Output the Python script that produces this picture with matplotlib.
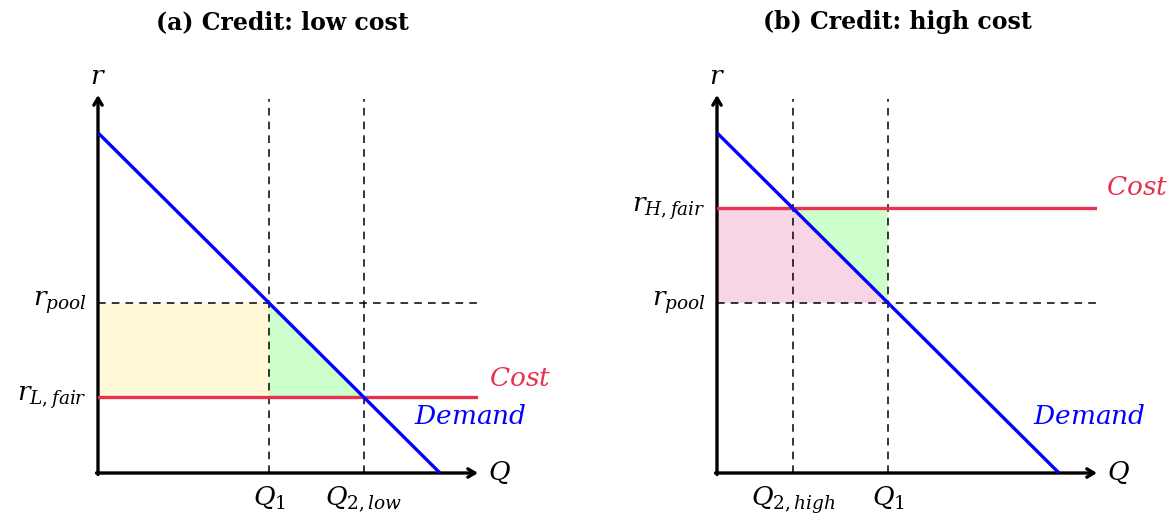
import matplotlib
matplotlib.use("Agg")
import matplotlib.pyplot as plt

plt.rcParams["mathtext.fontset"] = "dejavuserif"
plt.rcParams["font.family"] = "DejaVu Serif"

# demand: r = DEMAND_TOP - Q
DEMAND_TOP = 9.0
DEMAND_END = 9.0
R_POOL = 4.5
R_L_FAIR = 2.0
R_H_FAIR = 7.0
AX_MAX = 10.0

TITLES = ["(a) Credit: low cost", "(b) Credit: high cost"]

BLUE = "#0000FF"
RED = "#E8304F"
YELLOW = "#FFF9D8"
GREEN = "#CCFFCC"
PINK = "#F8D5E5"
LABEL_SIZE = 19


def demand_q(r):
    return DEMAND_TOP - r


def draw_frame(ax):
    ax.set_xlim(0, AX_MAX)
    ax.set_ylim(0, AX_MAX)
    ax.axis("off")
    arrow = dict(arrowstyle="->,head_length=0.5,head_width=0.3", lw=2.4, color="black",
                 shrinkA=0, shrinkB=0)
    ax.annotate("", xy=(AX_MAX, 0), xytext=(-0.04, 0), arrowprops=arrow, annotation_clip=False)
    ax.annotate("", xy=(0, AX_MAX), xytext=(0, -0.04), arrowprops=arrow, annotation_clip=False)
    ax.text(0, AX_MAX + 0.5, "$r$", ha="center", va="center", fontsize=LABEL_SIZE)
    ax.text(AX_MAX + 0.55, 0, "$Q$", ha="center", va="center", fontsize=LABEL_SIZE)


def draw_demand(ax):
    ax.plot([0, DEMAND_END], [DEMAND_TOP, DEMAND_TOP - DEMAND_END], color=BLUE, lw=2.4,
            solid_capstyle="butt", zorder=4)
    ax.text(9.8, 1.5, "$Demand$", color=BLUE, ha="center", va="center", fontsize=LABEL_SIZE)


def dashed(ax, xs, ys):
    ax.plot(xs, ys, color="black", lw=1.1, ls=(0, (5, 4)), zorder=3)


fig = plt.figure(figsize=(11.74, 5.19), dpi=100)
ax_a = fig.add_axes([98 / 1174, 46 / 519, 380 / 1174, 378 / 519])
ax_b = fig.add_axes([717 / 1174, 46 / 519, 380 / 1174, 378 / 519])

# (a) low cost
ax = ax_a
q1 = demand_q(R_POOL)
q2 = demand_q(R_L_FAIR)
ax.fill_between([0, q1], R_L_FAIR, R_POOL, color=YELLOW, lw=0, zorder=1)
ax.fill([q1, q1, q2], [R_POOL, R_L_FAIR, R_L_FAIR], color=GREEN, lw=0, zorder=1)
dashed(ax, [0, AX_MAX], [R_POOL, R_POOL])
dashed(ax, [q1, q1], [0, 9.9])
dashed(ax, [q2, q2], [0, 9.9])
ax.plot([0, AX_MAX], [R_L_FAIR, R_L_FAIR], color=RED, lw=2.4, zorder=4)
draw_demand(ax)
draw_frame(ax)
ax.text(11.1, 2.5, "$Cost$", color=RED, ha="center", va="center", fontsize=LABEL_SIZE)
ax.text(-0.3, R_POOL, "$r_{pool}$", ha="right", va="center", fontsize=LABEL_SIZE)
ax.text(-0.3, R_L_FAIR, "$r_{L,fair}$", ha="right", va="center", fontsize=LABEL_SIZE)
ax.text(q1, -0.3, "$Q_1$", ha="center", va="top", fontsize=LABEL_SIZE)
ax.text(q2, -0.3, "$Q_{2,low}$", ha="center", va="top", fontsize=LABEL_SIZE)

# (b) high cost
ax = ax_b
q1 = demand_q(R_POOL)
q2 = demand_q(R_H_FAIR)
ax.fill([0, 0, q2, q1], [R_POOL, R_H_FAIR, R_H_FAIR, R_POOL], color=PINK, lw=0, zorder=1)
ax.fill([q2, q1, q1], [R_H_FAIR, R_H_FAIR, R_POOL], color=GREEN, lw=0, zorder=1)
dashed(ax, [0, AX_MAX], [R_POOL, R_POOL])
dashed(ax, [q1, q1], [0, 9.9])
dashed(ax, [q2, q2], [0, 9.9])
ax.plot([0, AX_MAX], [R_H_FAIR, R_H_FAIR], color=RED, lw=2.4, zorder=4)
draw_demand(ax)
draw_frame(ax)
ax.text(11.05, 7.55, "$Cost$", color=RED, ha="center", va="center", fontsize=LABEL_SIZE)
ax.text(-0.3, R_POOL, "$r_{pool}$", ha="right", va="center", fontsize=LABEL_SIZE)
ax.text(-0.3, R_H_FAIR, "$r_{H,fair}$", ha="right", va="center", fontsize=LABEL_SIZE)
ax.text(q1, -0.3, "$Q_1$", ha="center", va="top", fontsize=LABEL_SIZE)
ax.text(q2, -0.3, "$Q_{2,high}$", ha="center", va="top", fontsize=LABEL_SIZE)

fig.text(282 / 1174, 1 - 22 / 519, TITLES[0], ha="center", va="center", fontsize=17,
         fontweight="bold")
fig.text(897 / 1174, 1 - 22 / 519, TITLES[1], ha="center", va="center", fontsize=17,
         fontweight="bold")

fig.savefig("out.png", dpi=100)
